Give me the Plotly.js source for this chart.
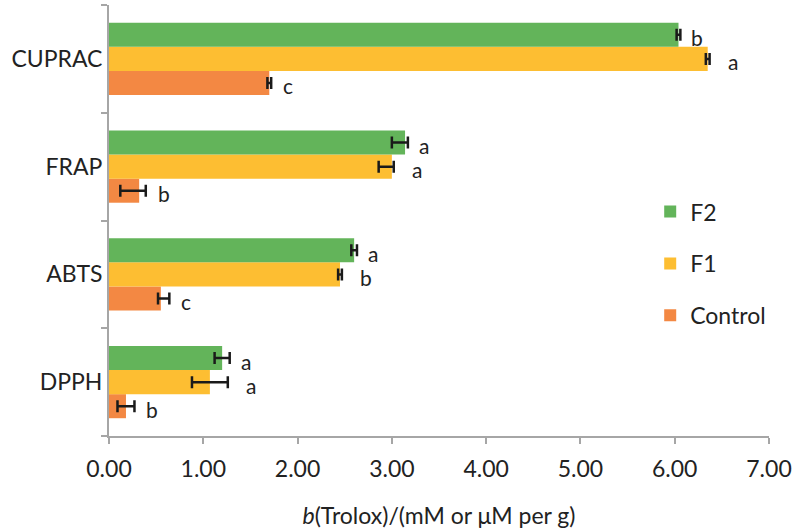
<!DOCTYPE html>
<html><head><meta charset="utf-8">
<script src="https://cdn.plot.ly/plotly-3.0.1.min.js"></script>
<style>html,body{margin:0;padding:0;background:#fff}#chart{width:796px;height:531px}</style>
</head><body><div id="chart"></div>
<script>
const categories = ["DPPH", "ABTS", "FRAP", "CUPRAC"];
const seriesNames = ["Control", "F1", "F2"];
const controlValues = [0.18, 0.55, 0.32, 1.70];
const controlErrPlus = [0.09, 0.09, 0.07, 0.02];
const controlErrMinus = [0.09, 0.03, 0.20, 0.02];
const f1Values = [1.07, 2.45, 3.00, 6.35];
const f1ErrPlus = [0.19, 0.02, 0.02, 0.02];
const f1ErrMinus = [0.19, 0.02, 0.14, 0.02];
const f2Values = [1.20, 2.60, 3.14, 6.04];
const f2ErrPlus = [0.08, 0.03, 0.03, 0.02];
const f2ErrMinus = [0.08, 0.03, 0.14, 0.02];
const controlLetters = ["b", "c", "b", "c"];
const f1Letters = ["a", "b", "a", "a"];
const f2Letters = ["a", "a", "a", "b"];
const xTicks = [0, 1, 2, 3, 4, 5, 6, 7];

const colors = ["#f38843", "#fdbe32", "#63b45a"];
const ranks = [3, 2, 1];
const letterGap = [10, 16, 9];
const FONT = "Lato, 'Open Sans', sans-serif";
const FS = 23;
const allVals = [controlValues, f1Values, f2Values];
const allPlus = [controlErrPlus, f1ErrPlus, f2ErrPlus];
const allMinus = [controlErrMinus, f1ErrMinus, f2ErrMinus];
const allLetters = [controlLetters, f1Letters, f2Letters];

const traces = seriesNames.map((n, i) => ({
  type: "bar", orientation: "h", name: n,
  y: categories, x: allVals[i],
  marker: {color: colors[i]},
  legendgroup: n, legendrank: ranks[i],
  error_x: {type: "data", symmetric: false, array: allPlus[i], arrayminus: allMinus[i],
            visible: true, color: "#1a1a1a", thickness: 2.5, width: 6},
  hoverinfo: "x+name"
}));

const annotations = [];
const shifts = [-24, 0, 24];
allLetters.forEach((arr, i) => {
  arr.forEach((t, j) => {
    annotations.push({
      x: allVals[i][j] + allPlus[i][j], y: categories[j], xref: "x", yref: "y",
      text: t, showarrow: false, xanchor: "left", yanchor: "middle",
      xshift: letterGap[i], yshift: shifts[i] - 3,
      font: {family: FONT, size: 21, color: "#222"}
    });
  });
});

const layout = {
  width: 796, height: 531,
  margin: {l: 109, r: 27, t: 5, b: 95},
  paper_bgcolor: "#fff", plot_bgcolor: "#fff",
  barmode: "group", bargap: 0.33, bargroupgap: 0,
  font: {family: FONT, size: FS, color: "#222"},
  xaxis: {
    range: [0, 7], tickvals: xTicks, tickformat: ".2f",
    showgrid: false, zeroline: false,
    showline: true, linecolor: "#a6a6a6", linewidth: 2,
    ticks: "outside", ticklen: 6, tickwidth: 2, tickcolor: "#a6a6a6",
    ticklabelstandoff: 5,
    tickfont: {family: FONT, size: FS, color: "#222"},
    title: {text: "<i>b</i>(Trolox)/(mM or μM per g)", font: {family: FONT, size: FS, color: "#222"}, standoff: 27}
  },
  yaxis: {
    type: "category", range: [-0.5, 3.5],
    showgrid: false, zeroline: false,
    showline: true, linecolor: "#a6a6a6", linewidth: 2,
    ticks: "outside", tickson: "boundaries", ticklen: 6, tickwidth: 2, tickcolor: "#a6a6a6",
    tickfont: {family: FONT, size: FS, color: "#222"}
  },
  legend: {
    x: 0.82, y: 0.40, xanchor: "left", yanchor: "middle",
    traceorder: "grouped", tracegroupgap: 19,
    font: {family: FONT, size: FS, color: "#222"}, bgcolor: "rgba(0,0,0,0)"
  },
  annotations: annotations
};

Plotly.newPlot("chart", traces, layout, {displayModeBar: false, staticPlot: true});
</script></body></html>
